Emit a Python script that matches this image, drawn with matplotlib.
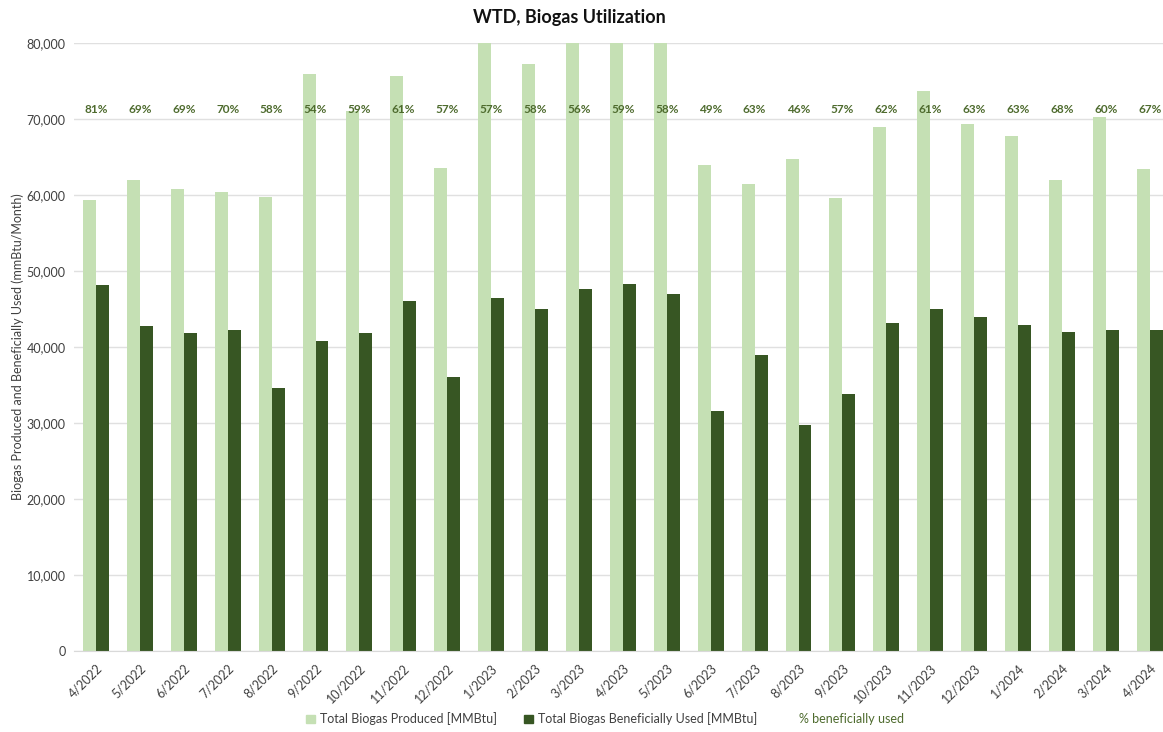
import numpy as np
import matplotlib.pyplot as plt
from matplotlib.patches import Patch
from matplotlib.lines import Line2D

plt.rcParams['font.family'] = ['Lato', 'DejaVu Sans']

mois = ["4/2022", "5/2022", "6/2022", "7/2022", "8/2022", "9/2022", "10/2022",
        "11/2022", "12/2022", "1/2023", "2/2023", "3/2023", "4/2023", "5/2023",
        "6/2023", "7/2023", "8/2023", "9/2023", "10/2023", "11/2023", "12/2023",
        "1/2024", "2/2024", "3/2024", "4/2024"]

# production totale (MMBtu) - les barres > 80 000 sont coupees par l'axe
produit = [59400, 62000, 60800, 60400, 59800, 75900, 71000, 75600, 63500,
           81600, 77300, 85000, 81900, 81000, 64000, 61400, 64800, 59600,
           69000, 73700, 69400, 67800, 62000, 70300, 63400]

# biogas valorise (MMBtu)
utilise = [48100, 42800, 41800, 42300, 34600, 40800, 41900, 46000, 36000,
           46500, 45000, 47600, 48300, 47000, 31600, 38900, 29700, 33800,
           43100, 45000, 43900, 42900, 42000, 42200, 42300]

pourcentages = ["81%", "69%", "69%", "70%", "58%", "54%", "59%", "61%", "57%",
                "57%", "58%", "56%", "59%", "58%", "49%", "63%", "46%", "57%",
                "62%", "61%", "63%", "63%", "68%", "60%", "67%"]

VERT_CLAIR = "#c5e0b4"
VERT_FONCE = "#375623"
VERT_TEXTE = "#4e6b2e"

fig = plt.figure(figsize=(11.63, 7.32), dpi=100)
ax = fig.add_axes([74 / 1163, 1 - 651 / 732, 1089 / 1163, 608 / 732])

x = np.arange(len(mois))
largeur = 0.295
ax.bar(x - largeur / 2, produit, width=largeur, color=VERT_CLAIR, zorder=2)
ax.bar(x + largeur / 2, utilise, width=largeur, color=VERT_FONCE, zorder=2)

for xi, p in zip(x, pourcentages):
    ax.text(xi, 71300, p, ha="center", va="center", fontsize=8.5,
            color=VERT_TEXTE, fontweight="bold", zorder=3)

ax.set_ylim(0, 80000)
ax.set_xlim(-0.5, 24.3)
ax.set_yticks(np.arange(0, 80001, 10000))
ax.set_yticklabels([f"{v:,}" for v in range(0, 80001, 10000)])
ax.set_xticks(x)
ax.set_xticklabels(mois, rotation=45, ha="right", rotation_mode="anchor")
ax.tick_params(axis="both", length=0, labelsize=9, colors="#404040", pad=6)
ax.tick_params(axis="x", pad=8)
ax.grid(True, axis="y", color="#e0e0e0", linewidth=1, zorder=0)
for cote in ("top", "right", "left"):
    ax.spines[cote].set_visible(False)
ax.spines["bottom"].set_color("#d9d9d9")

ax.set_ylabel("Biogas Produced and Beneficially Used (mmBtu/Month)",
              fontsize=9, color="#404040", labelpad=2)
fig.text(0.49, 1 - 18 / 732, "WTD, Biogas Utilization", ha="center", va="center",
         fontsize=13, fontweight="bold", color="#111111")

poignees = [Patch(color=VERT_CLAIR), Patch(color=VERT_FONCE),
            Line2D([], [], linestyle="none")]
etiquettes = ["Total Biogas Produced [MMBtu]", "Total Biogas Beneficially Used [MMBtu]",
              "% beneficially used"]
leg = fig.legend(poignees, etiquettes, loc="center", bbox_to_anchor=(0.52, 1 - 719 / 732),
                 ncol=3, frameon=False, fontsize=9, handlelength=0.7, handleheight=0.7,
                 columnspacing=2.2, handletextpad=0.4)
for i, t in enumerate(leg.get_texts()):
    t.set_color(VERT_TEXTE if i == 2 else "#404040")

fig.savefig("out.png", dpi=100)
